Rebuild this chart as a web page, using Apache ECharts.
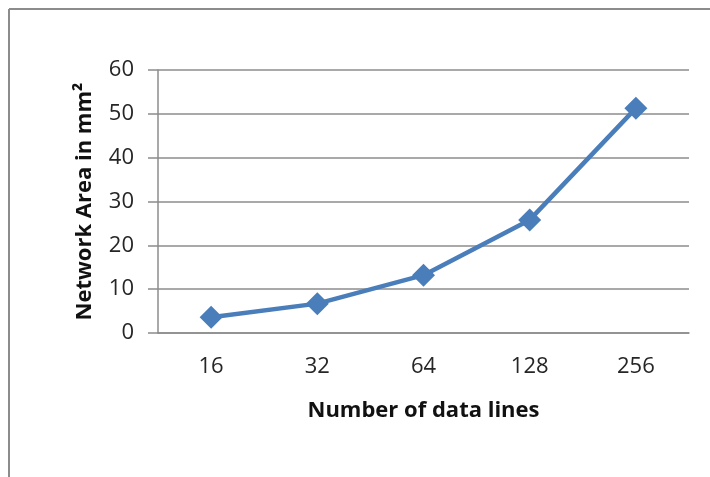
<!DOCTYPE html>
<html><head><meta charset="utf-8">
<script src="https://cdn.jsdelivr.net/npm/echarts@6/dist/echarts.min.js"></script>
<style>html,body{margin:0;padding:0;background:#fff}#c{width:710px;height:477px}</style>
</head><body><div id="c"></div>
<script>
const categories = ['16', '32', '64', '128', '256'];
const areaValues = [3.6, 6.7, 13.2, 25.8, 51.3];
const yTicks = { min: 0, max: 60, interval: 10 };
const xTitle = 'Number of data lines';
const yTitle = 'Network Area in mm²';

const chart = echarts.init(document.getElementById('c'));
const font = '"Open Sans", "Noto Sans", sans-serif';
chart.setOption({
  animation: false,
  graphic: [
    { type: 'line', shape: { x1: 9, y1: 9, x2: 710, y2: 9 }, style: { stroke: '#8c8c8c', lineWidth: 2 } },
    { type: 'line', shape: { x1: 9, y1: 9, x2: 9, y2: 477 }, style: { stroke: '#8c8c8c', lineWidth: 2 } }
  ],
  grid: { left: 158, right: 21, top: 70, bottom: 144 },
  xAxis: {
    type: 'category', data: categories, boundaryGap: true,
    axisLine: { lineStyle: { color: '#8c8c8c', width: 1.5 } },
    axisTick: { show: false },
    axisLabel: { color: '#262626', fontSize: 22, fontFamily: font, margin: 23 },
    name: xTitle, nameLocation: 'middle', nameGap: 67,
    nameTextStyle: { color: '#111', fontSize: 22, fontWeight: 'bold', fontFamily: font }
  },
  yAxis: {
    type: 'value', min: yTicks.min, max: yTicks.max, interval: yTicks.interval,
    axisLine: { show: true, lineStyle: { color: '#8c8c8c', width: 1.5 } },
    axisTick: { show: true, length: 10, lineStyle: { color: '#8c8c8c', width: 1.5 } },
    splitLine: { lineStyle: { color: '#8c8c8c', width: 1.5 } },
    axisLabel: { color: '#262626', fontSize: 22, fontFamily: font, margin: 24 },
    name: yTitle, nameLocation: 'middle', nameGap: 62, nameRotate: 90,
    nameTextStyle: { color: '#111', fontSize: 22, fontWeight: 'bold', fontFamily: font }
  },
  series: [{
    type: 'line', data: areaValues,
    symbol: 'diamond', symbolSize: 23,
    lineStyle: { color: '#4a7ebb', width: 4.5 },
    itemStyle: { color: '#4a7ebb' }
  }]
});
</script></body></html>
